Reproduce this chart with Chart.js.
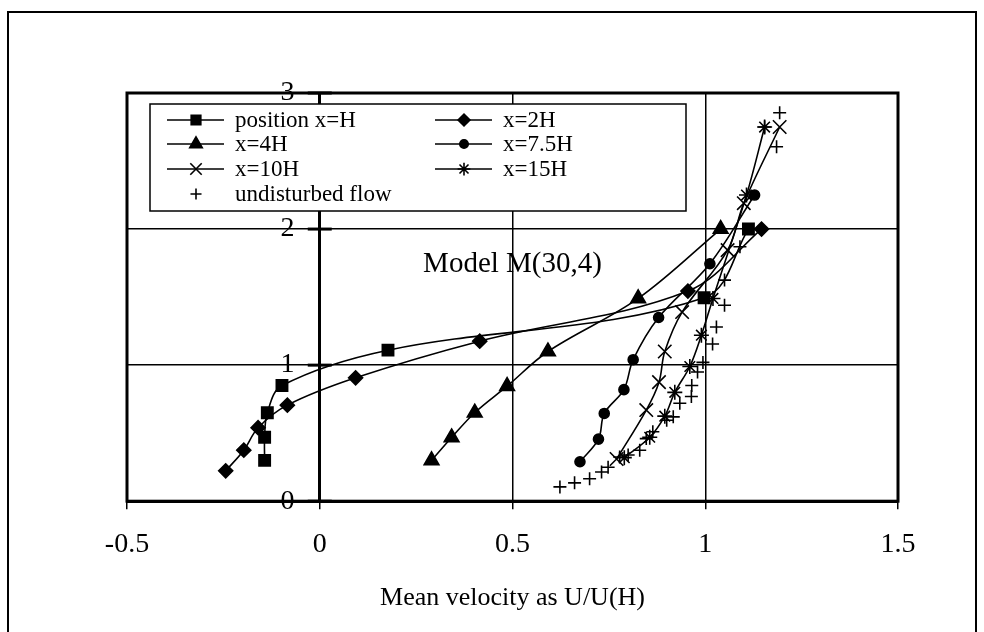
<!DOCTYPE html>
<html>
<head>
<meta charset="utf-8">
<script src="https://cdn.jsdelivr.net/npm/chart.js"></script>
<style>
  html, body { margin: 0; padding: 0; background: #fff; }
  #wrap { width: 984px; height: 632px; }
</style>
</head>
<body>
<div id="wrap"><canvas id="velChart" width="984" height="632"></canvas></div>
<script>
// Mean velocity profiles U/U(H) against height, model M(30,4)

const seriesNames = ['position x=H', 'x=2H', 'x=4H', 'x=7.5H', 'x=10H', 'x=15H', 'undisturbed flow'];

const posH_u = [-0.143, -0.143, -0.136, -0.098, 0.177, 0.997, 1.112];
const posH_z = [0.30, 0.47, 0.65, 0.85, 1.11, 1.495, 2.0];

const pos2H_u = [-0.244, -0.197, -0.16, -0.084, 0.093, 0.415, 0.955, 1.146];
const pos2H_z = [0.223, 0.375, 0.54, 0.706, 0.907, 1.176, 1.544, 2.0];

const pos4H_u = [0.29, 0.342, 0.402, 0.486, 0.592, 0.826, 1.04];
const pos4H_z = [0.30, 0.468, 0.65, 0.845, 1.10, 1.49, 2.0];

const pos7H_u = [0.675, 0.723, 0.738, 0.789, 0.813, 0.879, 1.012, 1.128];
const pos7H_z = [0.29, 0.456, 0.645, 0.82, 1.04, 1.35, 1.745, 2.25];

const pos10H_u = [0.77, 0.847, 0.88, 0.895, 0.94, 1.058, 1.10, 1.193];
const pos10H_z = [0.31, 0.67, 0.875, 1.10, 1.39, 1.845, 2.19, 2.75];

const pos15H_u = [0.79, 0.856, 0.895, 0.921, 0.96, 0.99, 1.02, 1.107, 1.154];
const pos15H_z = [0.32, 0.47, 0.625, 0.80, 0.99, 1.22, 1.49, 2.25, 2.75];

const undist_u = [0.623, 0.661, 0.70, 0.731, 0.748, 0.778, 0.80, 0.83, 0.847, 0.864, 0.90, 0.917,
                  0.934, 0.964, 0.965, 0.98, 0.994, 1.019, 1.029, 1.05, 1.05, 1.09, 1.185, 1.154, 1.193];
const undist_z = [0.105, 0.135, 0.165, 0.215, 0.25, 0.325, 0.34, 0.375, 0.46, 0.51, 0.595, 0.62,
                  0.72, 0.77, 0.85, 0.95, 1.02, 1.155, 1.28, 1.44, 1.625, 1.87, 2.605, 2.75, 2.855];

const xTicks = [-0.5, 0, 0.5, 1, 1.5];
const yTicks = [0, 1, 2, 3];
const xTitle = 'Mean velocity as U/U(H)';
const noteText = 'Model M(30,4)';

const serif = '"Liberation Serif", "Times New Roman", serif';

function pts(us, zs) {
    return us.map((u, i) => ({ x: u, y: zs[i] }));
}

function profile(label, us, zs, style, radius) {
    return {
        label: label,
        data: pts(us, zs),
        showLine: true,
        borderColor: '#000',
        borderWidth: 1.6,
        tension: 0.35,
        pointStyle: style,
        pointRadius: radius,
        pointHoverRadius: radius,
        pointBackgroundColor: '#000',
        pointBorderColor: '#000',
        pointBorderWidth: 1.6
    };
}

const datasets = [
    profile(seriesNames[0], posH_u, posH_z, 'rect', 8),
    profile(seriesNames[1], pos2H_u, pos2H_z, 'rectRot', 7),
    profile(seriesNames[2], pos4H_u, pos4H_z, 'triangle', 8.5),
    profile(seriesNames[3], pos7H_u, pos7H_z, 'circle', 5),
    profile(seriesNames[4], pos10H_u, pos10H_z, 'crossRot', 9.5),
    profile(seriesNames[5], pos15H_u, pos15H_z, 'star', 7.5),
    Object.assign(profile(seriesNames[6], undist_u, undist_z, 'cross', 6.5), { showLine: false })
];

// white page with a thin outer border
const pagePlugin = {
    id: 'page',
    beforeDraw(chart) {
        const c = chart.ctx;
        c.save();
        c.fillStyle = '#fff';
        c.fillRect(0, 0, chart.width, chart.height);
        c.strokeStyle = '#000';
        c.lineWidth = 2;
        c.strokeRect(8, 12, chart.width - 16, chart.height + 20);
        c.restore();
    }
};

// plot frame, axis crosses, note text and the boxed legend
const framePlugin = {
    id: 'frame',
    beforeDatasetsDraw(chart) {
        const c = chart.ctx;
        const a = chart.chartArea;
        const xs = chart.scales.x, ys = chart.scales.y;
        c.save();
        c.strokeStyle = '#000';
        c.lineWidth = 3;
        c.strokeRect(a.left, a.top, a.right - a.left, a.bottom - a.top);

        const x0 = xs.getPixelForValue(0);
        yTicks.forEach(v => {
            const py = ys.getPixelForValue(v);
            c.beginPath();
            c.moveTo(x0 - 12, py);
            c.lineTo(x0 + 12, py);
            c.stroke();
        });

        c.fillStyle = '#000';
        c.font = '29px ' + serif;
        c.textAlign = 'center';
        c.textBaseline = 'middle';
        c.fillText(noteText, xs.getPixelForValue(0.5), ys.getPixelForValue(1.74));

        // legend box
        const bx = a.left + 23, by = a.top + 11, bw = 536, bh = 107;
        c.fillStyle = '#fff';
        c.fillRect(bx, by, bw, bh);
        c.lineWidth = 1.5;
        c.strokeRect(bx, by, bw, bh);

        const rowY = [16, 40, 65, 90];
        const colX = [17, 285];
        c.font = '23px ' + serif;
        c.textAlign = 'left';
        datasets.forEach((ds, i) => {
            const col = i === 6 ? 0 : i % 2;
            const row = Math.floor(i / 2);
            const lx = bx + colX[col];
            const ly = by + rowY[row];
            c.strokeStyle = '#000';
            c.fillStyle = '#000';
            if (ds.showLine) {
                c.lineWidth = 1.6;
                c.beginPath();
                c.moveTo(lx, ly);
                c.lineTo(lx + 57, ly);
                c.stroke();
            }
            c.lineWidth = 1.6;
            Chart.helpers.drawPoint(c, {
                pointStyle: ds.pointStyle,
                radius: ds.pointRadius * 0.85,
                rotation: 0,
                borderWidth: 1.6
            }, lx + 29, ly);
            c.fillStyle = '#000';
            c.fillText(ds.label, lx + 68, ly + 1);
        });
        c.restore();
    }
};

const ctx = document.getElementById('velChart').getContext('2d');
const chart = new Chart(ctx, {
    type: 'scatter',
    data: { datasets: datasets },
    plugins: [pagePlugin, framePlugin],
    options: {
        responsive: false,
        animation: false,
        events: [],
        layout: { padding: { left: 127, top: 93, right: 86, bottom: 0 } },
        plugins: {
            legend: { display: false },
            tooltip: { enabled: false }
        },
        scales: {
            x: {
                type: 'linear',
                min: -0.5,
                max: 1.5,
                afterBuildTicks: s => { s.ticks = xTicks.map(v => ({ value: v })); },
                ticks: {
                    color: '#000',
                    padding: 19,
                    maxRotation: 0,
                    font: { family: serif, size: 28 },
                    callback: v => String(v)
                },
                grid: { color: '#000', lineWidth: 1.5, tickLength: 8 },
                border: { color: '#000', width: 3 },
                title: {
                    display: true,
                    text: xTitle,
                    color: '#000',
                    font: { family: serif, size: 26 },
                    padding: { top: 2, bottom: 18 }
                }
            },
            y: {
                type: 'linear',
                position: { x: 0 },
                min: 0,
                max: 3,
                afterBuildTicks: s => { s.ticks = yTicks.map(v => ({ value: v })); },
                ticks: {
                    color: '#000',
                    font: { family: serif, size: 28 },
                    callback: v => v + '\u2002\u2009\u2009'
                },
                grid: { color: '#000', lineWidth: 1.5, drawTicks: false },
                border: { color: '#000', width: 3 }
            }
        }
    }
});
</script>
</body>
</html>
